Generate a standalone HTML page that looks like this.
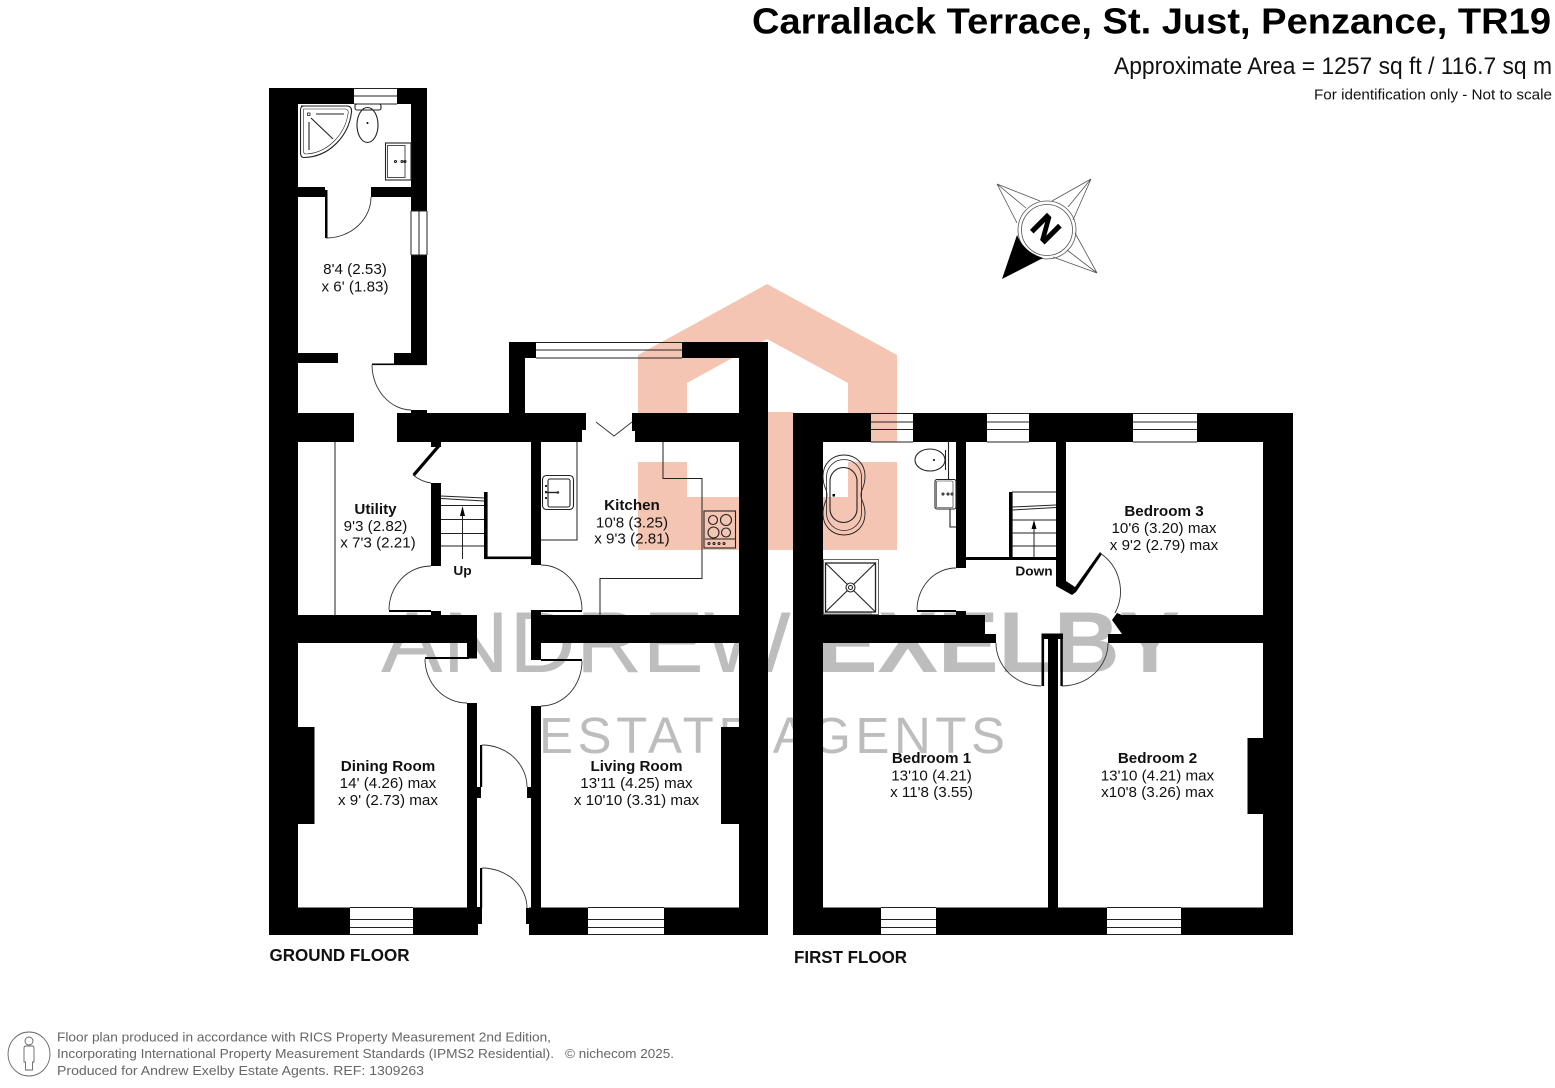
<!DOCTYPE html>
<html><head><meta charset="utf-8"><style>
html,body{margin:0;padding:0;background:#fff;width:1555px;height:1088px;overflow:hidden}
svg{display:block}
text{font-family:"Liberation Sans",Arial,sans-serif;fill:#111}
.r,.b{text-anchor:middle;font-size:14.4px;transform-box:fill-box;transform-origin:center;transform:scaleX(1.055)}
.b{font-weight:bold}
.t{fill:none;stroke:#222;stroke-width:1}
.d{fill:none;stroke:#333;stroke-width:.9}
.f{fill:none;stroke:#222;stroke-width:1.1}
.ft{font-size:13px;fill:#666}
</style></head><body>
<svg width="1555" height="1088" viewBox="0 0 1555 1088" xmlns="http://www.w3.org/2000/svg">
<rect width="1555" height="1088" fill="#fff"/>
<!-- pink logo -->
<g fill="#f5c5b3">
<path d="M638 355L767 284L897 355V442H848V383L767 339L687 383V442H638Z"/>
<rect x="742" y="412" width="51" height="138"/>
<rect x="638" y="462" width="49" height="88"/>
<rect x="848" y="462" width="49" height="88"/>
<rect x="638" y="497" width="259" height="53"/>
</g>
<!-- grey watermark -->
<text x="381" y="672" font-size="86" textLength="410" lengthAdjust="spacingAndGlyphs" style="fill:#bdbdbd">ANDREW</text>
<text x="817" y="672" font-size="86" font-weight="bold" textLength="363" lengthAdjust="spacingAndGlyphs" style="fill:#bdbdbd">EXELBY</text>
<text x="539" y="753" font-size="51" textLength="466" lengthAdjust="spacing" style="fill:#bdbdbd">ESTATE AGENTS</text>
<!-- ground walls -->
<g fill="#000">
<rect x="269" y="88" width="29" height="847"/>
<rect x="298" y="88" width="56" height="16"/><rect x="397" y="88" width="30" height="16"/>
<rect x="411" y="88" width="16" height="123"/><rect x="411" y="255" width="16" height="110"/>
<rect x="298" y="187" width="27" height="10"/><rect x="371" y="187" width="40" height="10"/>
<rect x="325" y="190" width="2.5" height="48"/>
<rect x="298" y="353" width="40" height="10"/><rect x="394" y="353" width="33" height="11"/>
<rect x="372" y="363.5" width="55" height="1.6"/>
<rect x="298" y="413" width="56" height="29"/>
<rect x="397" y="413" width="185" height="29"/><rect x="582" y="413" width="4" height="17"/>
<rect x="411" y="410" width="16" height="3"/>
<rect x="632" y="413" width="107" height="18"/><rect x="635" y="431" width="104" height="11"/>
<rect x="509" y="342" width="16" height="71"/><rect x="509" y="342" width="27" height="16"/>
<rect x="682" y="342" width="86" height="16"/><rect x="739" y="342" width="29" height="593"/>
<rect x="531" y="442" width="10" height="123"/>
<rect x="431" y="483" width="10" height="83"/><rect x="431" y="442" width="10" height="5"/>
<rect x="484" y="492" width="3.6" height="67"/><rect x="484" y="556.5" width="48" height="2.6"/>
<path d="M437.5 445L440 447L415 476L412.5 474Z"/>
<rect x="298" y="615" width="179" height="28"/><rect x="467" y="643" width="10" height="15.5"/>
<rect x="425" y="657" width="44" height="2"/><rect x="389" y="610" width="42" height="2"/><rect x="431" y="611" width="10" height="5"/>
<rect x="531" y="615" width="208" height="28"/><rect x="531" y="610" width="10" height="50"/>
<rect x="541" y="610" width="41" height="2"/><rect x="541" y="659" width="41" height="2"/>
<rect x="467" y="703" width="10" height="232"/><rect x="531" y="706" width="10" height="229"/>
<rect x="477" y="787" width="4" height="11"/><rect x="480" y="745" width="2.2" height="42"/>
<rect x="477" y="907" width="5" height="17"/><rect x="480" y="868" width="2.2" height="40"/>
<rect x="527" y="787" width="4" height="11"/><rect x="526" y="908" width="5" height="16"/>
<rect x="298" y="907.5" width="52" height="27.5"/><rect x="413" y="907.5" width="65" height="27.5"/>
<rect x="529" y="907.5" width="59" height="27.5"/><rect x="664" y="907.5" width="75" height="27.5"/>
<rect x="298" y="727" width="16.5" height="97"/><rect x="721" y="727" width="18" height="97"/>
<!-- first walls -->
<rect x="793" y="413" width="30" height="522"/><rect x="1263" y="413" width="30" height="522"/>
<rect x="823" y="413" width="48" height="29"/><rect x="913" y="413" width="74" height="29"/>
<rect x="1029" y="413" width="104" height="29"/><rect x="1197" y="413" width="66" height="29"/>
<rect x="823" y="907.5" width="58" height="27.5"/><rect x="936" y="907.5" width="171" height="27.5"/><rect x="1181" y="907.5" width="82" height="27.5"/>
<rect x="1247.5" y="738" width="15.5" height="76"/>
<rect x="956" y="442" width="10" height="126"/>
<path d="M1056 442H1066V581L1075 587L1100 552L1102 554L1076 592L1072 595L1056 586Z"/>
<rect x="966" y="557" width="90" height="3"/>
<rect x="1009" y="492" width="3.6" height="68"/>
<rect x="917" y="610" width="39" height="2"/><rect x="956" y="611" width="10" height="5"/>
<path d="M823 615H985V634H996V643H823Z"/>
<path d="M1112 620L1117 613L1122 615H1263V643H1108V634H1122Z"/>
<rect x="1041.500" y="633.500" width="21.500" height="5.500"/>
<rect x="1041.500" y="634" width="2.600" height="52"/><rect x="1060.400" y="634" width="2.400" height="52"/>
<rect x="1048" y="634" width="10" height="274"/>
</g>
<!-- windows -->
<g class="t">
<path d="M354 88.500H397M354 96H397M354 104H397"/>
<path d="M411 211V255M419 211V255M427 211V255M411 211H427M411 255H427"/>
<path d="M536 342.500H682M536 350H682M536 358H682"/>
<path d="M350 907.500H413M350 919.500H413M350 927.500H413M350 934.500H413"/>
<path d="M588 907.500H664M588 919.500H664M588 927.500H664M588 934.500H664"/>
<path d="M871 413.500H913M871 422H913M871 429.500H913M871 442H913"/>
<path d="M987 413.500H1029M987 422H1029M987 429.500H1029M987 442H1029"/>
<path d="M1133 413.500H1197M1133 422H1197M1133 429.500H1197M1133 442H1197"/>
<path d="M881 907.500H936M881 919.500H936M881 927.500H936M881 934.500H936"/>
<path d="M1107 907.500H1181M1107 919.500H1181M1107 927.500H1181M1107 934.500H1181"/>
</g>
<!-- door arcs -->
<g class="d">
<path d="M326 238A45 41 0 0 0 371 197"/>
<path d="M372 365A40 46 0 0 0 411 410"/>
<path d="M413 475Q422 482 431 483"/>
<path d="M389 610A42 44 0 0 1 431 566"/>
<path d="M541 565A41 45 0 0 1 582 610"/>
<path d="M425 659A42 44 0 0 0 467 703"/>
<path d="M582 661A41 45 0 0 1 541 706"/>
<path d="M482 745A45 42 0 0 1 527 787"/>
<path d="M482 868A45 40 0 0 1 527 908"/>
<path d="M917 610A39 42 0 0 1 956 568"/>
<path d="M996 643A45 43 0 0 0 1041 686"/>
<path d="M1062 686A46 43 0 0 0 1108 643"/>
<path d="M1100 553A46 46 0 0 1 1115 613"/>
<path d="M596 422L614 436L632 422"/>
</g>
<!-- thin lines -->
<g class="t">
<path d="M335 442V615"/>
<path d="M577 442V540H541"/>
<path d="M663 442V478.500H702V578.500H600V615"/>
<path d="M441 496L484 498M441 498.500L484 501M441 505.500H484M441 519.500H484M441 533.500H484M441 546H484"/>
<path d="M462.500 559V515"/>
<path d="M1012 492H1056M1012 507L1056 505M1012 510L1056 507.500M1012 520H1056M1012 533H1056M1012 546H1056"/>
<path d="M1034 557V527"/>
</g>
<path d="M462.500 506L460 516H465Z" fill="#000"/><path d="M1034 520L1031.500 529H1036.500Z" fill="#000"/>
<!-- wc fixtures -->
<g class="f">
<path d="M301 106H347Q352 106 351.500 112C349 135 330 157 304 157.500Q300.500 157.500 300.500 153V110Q300.500 106 304 106Z"/>
<path d="M303.500 109H345Q349 109 348 114C345 134 328 153 306 154Q303.500 154 303.500 151Z" stroke-width=".6"/>
<path d="M316 114H344M309 122V150M311 118L333 139" />
<rect x="307.500" y="113" width="2.500" height="2.500" stroke-width=".8"/>
<rect x="355" y="104" width="26" height="6" rx="2"/>
<ellipse cx="367.500" cy="125" rx="10.500" ry="17.500"/>
<rect x="385.500" y="143" width="25.500" height="37" /><rect x="387.500" y="145.500" width="17.500" height="32" stroke-width=".8"/>
<circle cx="395.500" cy="161.500" r="1" /><circle cx="402" cy="161.500" r="1"/><circle cx="405" cy="161.500" r="1"/>
<!-- kitchen -->
<rect x="542.500" y="475.500" width="31" height="34" rx="4"/><rect x="548" y="479" width="22" height="28" rx="2"/>
<path d="M545 492.500H558" stroke-width="1.400"/><path d="M546 485V500" stroke-width="2" stroke-dasharray="2 4"/><circle cx="558" cy="492.500" r=".7" />
<rect x="704" y="511" width="31.500" height="37"/>
<path d="M705 539H735"/>
<circle cx="713" cy="520" r="4.500"/><circle cx="726" cy="520" r="5.500"/><circle cx="713.500" cy="532.500" r="5.500"/><circle cx="726" cy="532.500" r="4.500"/>
<circle cx="709" cy="543.500" r="1"/><circle cx="714" cy="543.500" r="1"/><circle cx="719" cy="543.500" r="1"/><circle cx="724" cy="543.500" r="1"/>
<!-- bathroom -->
<path d="M844 455C856 455 865 464 865 476C865 488 861 488 861 495C861 502 865 502 865 514C865 526 856 535 844 535C832 535 823 526 823 514C823 502 827 502 827 495C827 488 823 488 823 476C823 464 832 455 844 455Z" stroke-width=".9"/>
<rect x="826.500" y="459.500" width="35" height="71" rx="17.500" stroke-width=".8"/>
<rect x="830" y="467.500" width="27" height="55" rx="13.500"/>
<rect x="823.500" y="559.500" width="55" height="55" stroke-width=".7"/>
<rect x="825.500" y="563" width="50" height="49" stroke-width="1.300"/>
<path d="M825.500 563L875.500 612M875.500 563L825.500 612"/>
<circle cx="850.500" cy="587.500" r="4.500" fill="#fff"/><circle cx="850.500" cy="587.500" r="2"/>
<ellipse cx="930" cy="460" rx="15" ry="11"/>
<path d="M945.500 450V470M948.500 442V479"/>
<rect x="935" y="479.500" width="21" height="29.500" rx="2"/>
<rect x="936.500" y="481" width="16.500" height="26.500" rx="1" stroke-width=".6"/>
<path d="M950 509V527H956" /><circle cx="943" cy="494" r="1"/><circle cx="948" cy="494" r="1"/><circle cx="952" cy="494" r="1"/>
</g>
<circle cx="367.500" cy="123" r="1" fill="#000"/><circle cx="934" cy="460" r="1" fill="#000"/><rect x="832.500" y="494" width="2.500" height="2.500" fill="#000"/>
<!-- compass -->
<g fill="none" stroke="#555" stroke-width=".8">
<path d="M997 184L1040 201M997 184L1017 223M997 184L1026 208"/>
<path d="M1091 179L1052 201M1091 179L1073 220M1091 179L1068 207"/>
<path d="M1097 273L1075 233M1097 273L1053 257M1097 273L1067 250"/>
<circle cx="1047" cy="230" r="29"/><circle cx="1047" cy="230" r="25.500"/>
</g>
<path d="M1002 279L1017 235Q1024 252 1043 258Z" fill="#000"/>
<text x="1046" y="240.500" font-size="34" font-weight="bold" text-anchor="middle" transform="rotate(45 1046 228.500)" style="fill:#000;stroke:#000;stroke-width:.8">N</text>
<!-- labels -->
<text class="r" x="355" y="274">8'4 (2.53)</text><text class="r" x="355" y="291.500">x 6' (1.83)</text>
<text class="b" x="375.500" y="514">Utility</text><text class="r" x="375.500" y="531">9'3 (2.82)</text><text class="r" x="378" y="547.500">x 7'3 (2.21)</text>
<text class="b" x="632" y="510">Kitchen</text><text class="r" x="632" y="527.500">10'8 (3.25)</text><text class="r" x="632" y="543.500">x 9'3 (2.81)</text>
<text class="b" x="462.500" y="575" style="font-size:13px">Up</text>
<text class="b" x="388" y="771">Dining Room</text><text class="r" x="388" y="788">14' (4.26) max</text><text class="r" x="388" y="805">x 9' (2.73) max</text>
<text class="b" x="636.500" y="771">Living Room</text><text class="r" x="636.500" y="788">13'11 (4.25) max</text><text class="r" x="636.500" y="805">x 10'10 (3.31) max</text>
<text class="b" x="1164" y="516">Bedroom 3</text><text class="r" x="1164" y="533">10'6 (3.20) max</text><text class="r" x="1164" y="550">x 9'2 (2.79) max</text>
<text class="b" x="1034" y="575.500" style="font-size:13px">Down</text>
<text class="b" x="931.500" y="763">Bedroom 1</text><text class="r" x="931.500" y="780.500">13'10 (4.21)</text><text class="r" x="931.500" y="797">x 11'8 (3.55)</text>
<text class="b" x="1157.500" y="763">Bedroom 2</text><text class="r" x="1157.500" y="780.500">13'10 (4.21) max</text><text class="r" x="1157.500" y="797">x10'8 (3.26) max</text>
<text x="269.500" y="961" font-size="17.500" font-weight="bold" textLength="140" lengthAdjust="spacingAndGlyphs">GROUND FLOOR</text>
<text x="794" y="963" font-size="17.500" font-weight="bold" textLength="113" lengthAdjust="spacingAndGlyphs">FIRST FLOOR</text>
<!-- header -->
<text x="752" y="33.300" font-size="36.500" font-weight="bold" textLength="799" lengthAdjust="spacingAndGlyphs" style="fill:#000">Carrallack Terrace, St. Just, Penzance, TR19</text>
<text x="1114" y="74" font-size="24" textLength="438" lengthAdjust="spacingAndGlyphs">Approximate Area = 1257 sq ft / 116.7 sq m</text>
<text x="1314" y="99.500" font-size="15" textLength="238" lengthAdjust="spacingAndGlyphs">For identification only - Not to scale</text>
<!-- footer -->
<g fill="none" stroke="#666" stroke-width=".9">
<ellipse cx="29" cy="1054" rx="21" ry="22"/>
<circle cx="29" cy="1041" r="4"/>
<path d="M24 1048Q24 1046 26 1046H32Q34 1046 34 1048V1062H32.500V1070H25.500V1062H24Z"/>
</g>
<text class="ft" x="57" y="1041.500" textLength="494" lengthAdjust="spacingAndGlyphs">Floor plan produced in accordance with RICS Property Measurement 2nd Edition,</text>
<text class="ft" x="57" y="1058" textLength="497" lengthAdjust="spacingAndGlyphs">Incorporating International Property Measurement Standards (IPMS2 Residential).</text>
<text class="ft" x="565" y="1058" textLength="109" lengthAdjust="spacingAndGlyphs">© nichecom 2025.</text>
<text class="ft" x="57" y="1075" textLength="367" lengthAdjust="spacingAndGlyphs">Produced for Andrew Exelby Estate Agents.   REF: 1309263</text>
</svg>
</body></html>
